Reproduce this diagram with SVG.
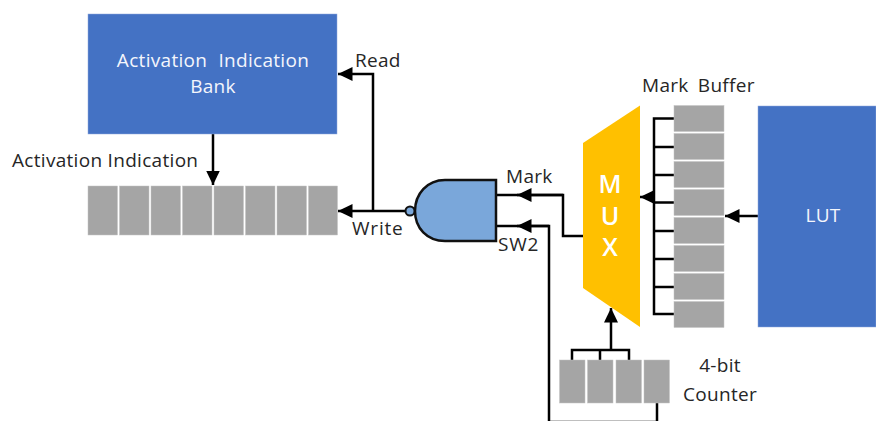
<svg xmlns="http://www.w3.org/2000/svg" width="876" height="421" viewBox="0 0 876 421">
<defs>
<marker id="arrow" markerUnits="userSpaceOnUse" markerWidth="15" markerHeight="16" refX="14.500" refY="7.500" orient="auto"><path d="M0 0.500L14.500 7.500L0 14.500Z" fill="#000"/></marker>
</defs>
<style>
text{font-family:"Open Sans","Noto Sans","DejaVu Sans",sans-serif;font-size:19px;letter-spacing:.3px;fill:#262626}
.w{fill:#f4f6fc}
.mx{fill:#fff;font-size:25px;font-weight:600;letter-spacing:0}
.gap{word-spacing:6px}
.gap2{word-spacing:4px}
.wide{letter-spacing:.8px}
.blue{fill:#4472C4;stroke:#8fa9dc;stroke-width:.5}
.cell{fill:#A5A5A5;stroke:#c4c4c4;stroke-width:.5}
.c{fill:none;stroke:#000;stroke-width:2.500}
.a{marker-end:url(#arrow)}
</style>
<rect width="876" height="421" fill="#fff"/>
<g id="connectors">
<path class="c a" d="M213 134V185"/>
<path class="c a" d="M405 211H338"/>
<path class="c a" d="M373 211V74H338"/>
<path class="c" d="M583 236H563V195H496"/>
<path class="c a" d="M563 195H517"/>
<path class="c" d="M549 423V226H496"/>
<path class="c a" d="M549 226H517"/>
<path class="c a" d="M758 216H725"/>
<path class="c" d="M674 118.500H654V314H674M654 147H674M654 175H674M654 202.500H674M654 231H674M654 259H674M654 287H674"/>
<path class="c a" d="M654 197H640"/>
<path class="c" d="M572 360V350H629V360M600 350V360"/>
<path class="c a" d="M611 350V308"/>
<path class="c" d="M657 403V422H549"/>
</g>
<g id="activation-bank"><rect class="blue" x="88" y="14" width="249" height="120"/><text class="w gap" x="213" y="67" text-anchor="middle">Activation Indication</text><text class="w" x="213" y="93" text-anchor="middle">Bank</text></g>
<g id="activation-register">
<rect class="cell" x="88" y="186" width="29.500" height="49"/><rect class="cell" x="119.500" y="186" width="29.500" height="49"/><rect class="cell" x="151" y="186" width="29.500" height="49"/><rect class="cell" x="182.500" y="186" width="29.500" height="49"/><rect class="cell" x="214" y="186" width="29.500" height="49"/><rect class="cell" x="245.500" y="186" width="29.500" height="49"/><rect class="cell" x="277" y="186" width="29.500" height="49"/><rect class="cell" x="308.500" y="186" width="29" height="49"/>
<text x="12" y="167">Activation Indication</text></g>
<g id="gate"><path d="M496 180H445C427 180 415 194 415 211C415 228 427 241 445 241H496Z" fill="#7AA7DA" stroke="#111" stroke-width="2.500"/><circle cx="410" cy="211" r="4.500" fill="#7AA7DA" stroke="#111" stroke-width="2"/></g>
<g id="mux"><path d="M640 105.500L583 143V288L640 327Z" fill="#FFC000"/><text class="mx" x="610" y="193" text-anchor="middle">M</text><text class="mx" x="610" y="225" text-anchor="middle">U</text><text class="mx" x="610" y="256" text-anchor="middle">X</text></g>
<g id="mark-buffer">
<rect class="cell" x="674" y="105.500" width="50" height="26"/><rect class="cell" x="674" y="133.500" width="50" height="26"/><rect class="cell" x="674" y="161.500" width="50" height="26"/><rect class="cell" x="674" y="189.500" width="50" height="26"/><rect class="cell" x="674" y="217.500" width="50" height="26"/><rect class="cell" x="674" y="245.500" width="50" height="26"/><rect class="cell" x="674" y="273.500" width="50" height="26"/><rect class="cell" x="674" y="301.500" width="50" height="26"/>
<text class="gap2" x="642" y="92">Mark Buffer</text></g>
<g id="lut"><rect class="blue" x="758" y="106" width="118" height="221"/><text class="w" x="823" y="222" text-anchor="middle">LUT</text></g>
<g id="counter">
<rect class="cell" x="559.500" y="360" width="25.500" height="43"/><rect class="cell" x="587.500" y="360" width="25.500" height="43"/><rect class="cell" x="616" y="360" width="25.500" height="43"/><rect class="cell" x="644" y="360" width="25.500" height="43"/>
<text x="720" y="372" text-anchor="middle">4-bit</text><text x="720" y="401" text-anchor="middle">Counter</text></g>
<g id="labels"><text x="355" y="67">Read</text><text class="wide" x="352" y="235">Write</text><text x="506" y="183">Mark</text><text class="wide" x="498" y="251">SW2</text></g>
</svg>
